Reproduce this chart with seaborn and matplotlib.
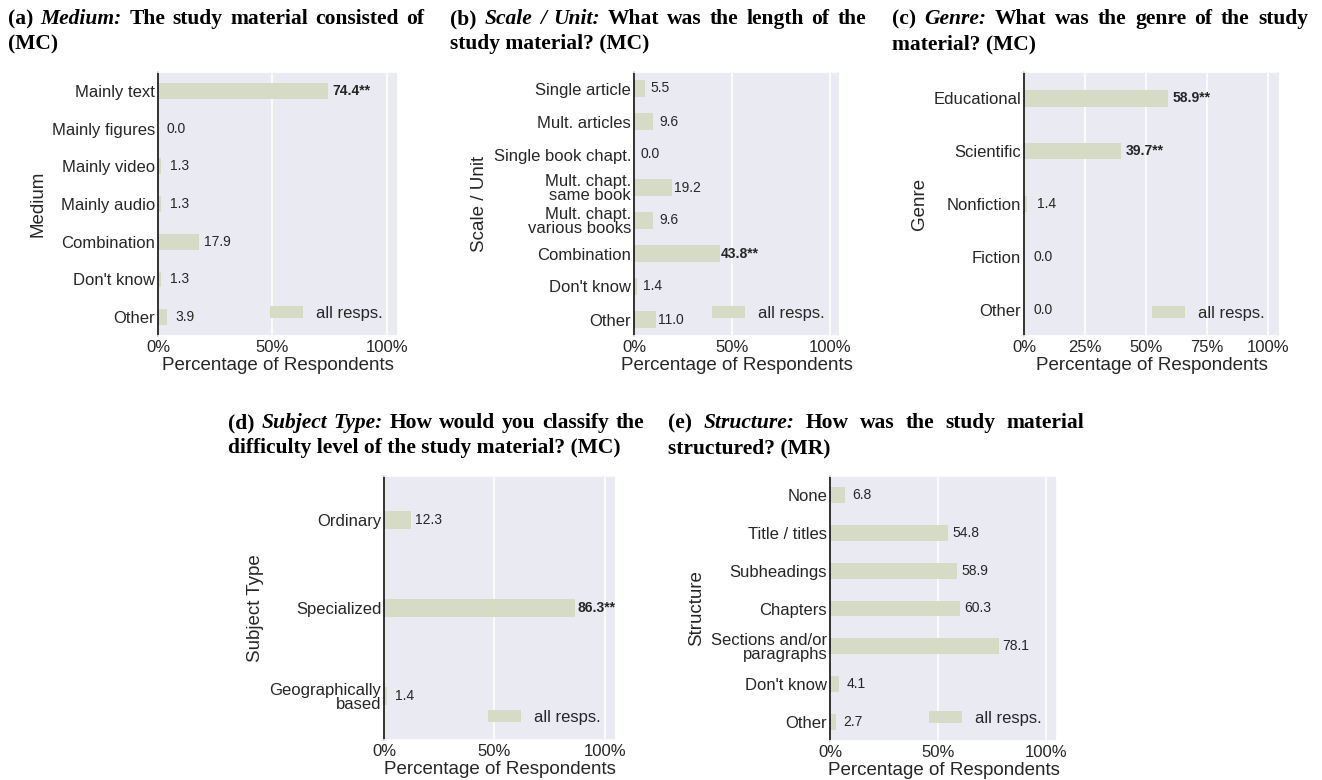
import matplotlib
matplotlib.use("Agg")
import matplotlib.pyplot as plt
import seaborn as sns
import pandas as pd

sns.set_theme(style="darkgrid")
plt.rcParams['font.family'] = ['Liberation Sans', 'DejaVu Sans']

# -------------------------
# Data
# -------------------------
medium_cats = ["Mainly text", "Mainly figures", "Mainly video", "Mainly audio",
               "Combination", "Don't know", "Other"]
medium_vals = [74.4, 0.0, 1.3, 1.3, 17.9, 1.3, 3.9]
medium_sig = [True, False, False, False, False, False, False]

scale_cats = ["Single article", "Mult. articles", "Single book chapt.",
              "Mult. chapt.\nsame book", "Mult. chapt.\nvarious books",
              "Combination", "Don't know", "Other"]
scale_vals = [5.5, 9.6, 0.0, 19.2, 9.6, 43.8, 1.4, 11.0]
scale_sig = [False, False, False, False, False, True, False, False]

genre_cats = ["Educational", "Scientific", "Nonfiction", "Fiction", "Other"]
genre_vals = [58.9, 39.7, 1.4, 0.0, 0.0]
genre_sig = [True, True, False, False, False]

subject_cats = ["Ordinary", "Specialized", "Geographically\nbased"]
subject_vals = [12.3, 86.3, 1.4]
subject_sig = [False, True, False]

structure_cats = ["None", "Title / titles", "Subheadings", "Chapters",
                  "Sections and/or\nparagraphs", "Don't know", "Other"]
structure_vals = [6.8, 54.8, 58.9, 60.3, 78.1, 4.1, 2.7]
structure_sig = [False, False, False, False, False, False, False]

BAR_COLOR = '#d5dbc5'
TXT = '#262626'
W, H = 1322, 780

fig = plt.figure(figsize=(W / 100, H / 100), dpi=100)
renderer = fig.canvas.get_renderer()


def px_axes(left, right, top, bottom):
    return fig.add_axes([left / W, 1 - bottom / H, (right - left) / W, (bottom - top) / H])


def draw_panel(ax, cats, vals, sig, ylabel, width, xticks):
    df = pd.DataFrame({'cat': cats, 'val': vals})
    sns.barplot(data=df, x='val', y='cat', color=BAR_COLOR, saturation=1,
                width=width, errorbar=None, label='all resps.', linewidth=0, ax=ax)
    for i, (v, s) in enumerate(zip(vals, sig)):
        if s:
            ax.text(v + 10, i, f"{v:.1f}**", ha='center', va='center',
                    fontsize=10, fontweight='bold', color=TXT)
        else:
            ax.text(v + 8, i, f"{v:.1f}", ha='center', va='center',
                    fontsize=10, color=TXT)
    ax.set_xlim(0, 105)
    ax.set_xticks(xticks)
    ax.set_xticklabels([f"{t}%" for t in xticks], fontsize=12, color=TXT)
    for lbl in ax.get_yticklabels():
        lbl.set_fontsize(12)
        lbl.set_color(TXT)
        lbl.set_linespacing(0.95)
    ax.tick_params(axis='y', length=0, pad=2)
    ax.tick_params(axis='x', length=0, pad=3)
    ax.grid(False, axis='y')
    ax.grid(True, axis='x', color='white', linewidth=1.1)
    ax.spines['left'].set_visible(True)
    ax.spines['left'].set_color('#111111')
    ax.spines['left'].set_linewidth(1.2)
    ax.set_xlabel('Percentage of Respondents', fontsize=13.5, color=TXT, labelpad=1)
    ax.set_ylabel(ylabel, fontsize=13.5, color=TXT, labelpad=4)
    ax.legend(loc='lower right', frameon=False, fontsize=12)


def panel_title(x, y1, y2, words, line2, line_width=416):
    # first line is set justified across the column, second line ragged
    kw = dict(fontsize=15.5, fontweight='bold', family='Liberation Serif', color='black',
              va='baseline', ha='left')
    arts = []
    for word, italic in words:
        arts.append(fig.text(x / W, 1 - y1 / H, word,
                             fontstyle='italic' if italic else 'normal', **kw))
    widths = [t.get_window_extent(renderer).width for t in arts]
    gap = (line_width - sum(widths)) / (len(arts) - 1)
    pos = x
    for t, w in zip(arts, widths):
        t.set_x(pos / W)
        pos += w + gap
    fig.text(x / W, 1 - y2 / H, line2, **kw)


def split_title(prefix, italic, rest):
    words = [(prefix, False)]
    words += [(w, True) for w in italic.split()]
    words += [(w, False) for w in rest.split()]
    return words


ax_a = px_axes(158, 398, 72, 336)
draw_panel(ax_a, medium_cats, medium_vals, medium_sig, 'Medium', 0.42, [0, 50, 100])
panel_title(8, 24, 49, split_title("(a)", "Medium:", "The study material consisted of"), "(MC)")

ax_b = px_axes(634, 840, 72, 336)
draw_panel(ax_b, scale_cats, scale_vals, scale_sig, 'Scale / Unit', 0.5, [0, 50, 100])
panel_title(450, 24, 49, split_title("(b)", "Scale / Unit:", "What was the length of the"),
            "study material? (MC)")

ax_c = px_axes(1024, 1280, 72, 336)
draw_panel(ax_c, genre_cats, genre_vals, genre_sig, 'Genre', 0.31, [0, 25, 50, 75, 100])
panel_title(892, 24, 49, split_title("(c)", "Genre:", "What was the genre of the study"),
            "material? (MC)")

ax_d = px_axes(384, 616, 476, 740)
draw_panel(ax_d, subject_cats, subject_vals, subject_sig, 'Subject Type', 0.2, [0, 50, 100])
panel_title(228, 428, 453, split_title("(d)", "Subject Type:", "How would you classify the"),
            "difficulty level of the study material? (MC)")

ax_e = px_axes(830, 1057, 476, 741)
draw_panel(ax_e, structure_cats, structure_vals, structure_sig, 'Structure', 0.42, [0, 50, 100])
panel_title(668, 428, 453, split_title("(e)", "Structure:", "How was the study material"),
            "structured? (MR)")

plt.savefig('out.png', dpi=100)
